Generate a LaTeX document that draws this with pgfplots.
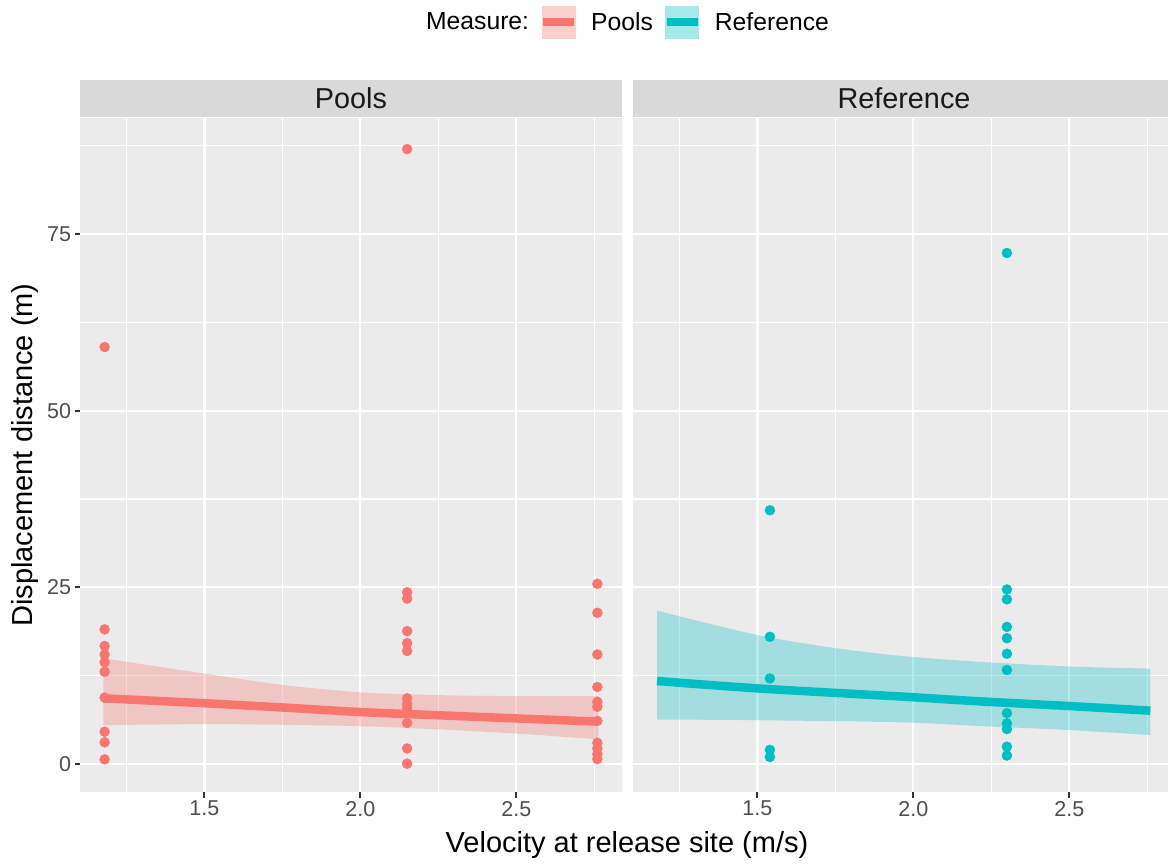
\documentclass[border=0pt]{standalone}
\usepackage{pgfplots}
\pgfplotsset{compat=1.18}
\usepgfplotslibrary{fillbetween}
\usepackage{fontspec}
\setmainfont{Liberation Sans}
\definecolor{pools}{HTML}{F8766D}
\definecolor{refc}{HTML}{00BFC4}
\definecolor{panelbg}{HTML}{EBEBEB}
\definecolor{stripbg}{HTML}{D9D9D9}
\definecolor{tickc}{HTML}{333333}
\definecolor{ticklab}{HTML}{4D4D4D}
\pgfplotsset{
 facet/.style={
  width=542pt, height=674pt, scale only axis,
  xmin=1.101, xmax=2.839, ymin=-3.96, ymax=91.4,
  axis background/.style={fill=panelbg},
  axis line style={draw=none},
  xtick={1.5,2,2.5}, xticklabels={1.5,2.0,2.5},
  ytick={0,25,50,75}, yticklabels={0,25,50,75},
  minor xtick={1.25,1.75,2.25,2.75}, minor ytick={12.5,37.5,62.5,87.5},
  grid=both,
  major grid style={white, line width=2.2pt},
  minor grid style={white, line width=1.1pt},
  tick align=outside, tick pos=left,
  major tick length=5.5pt, minor tick length=0pt,
  tick style={tickc, line width=2pt},
  ticklabel style={font=\fontsize{21.5}{24}\selectfont, text=ticklab},
  /pgf/number format/assume math mode=true,
  clip=true,
 }
}
\begin{document}
\begin{tikzpicture}
\begin{axis}[facet, at={(80pt,-792pt)}, anchor=south west,
  legend style={at={(1.0,1.1424)}, anchor=center, draw=none, fill=none,
    legend columns=-1, font=\fontsize{24.7}{28}\selectfont,
    /tikz/every even column/.append style={column sep=8pt},
    /tikz/every odd column/.append style={column sep=11pt}},
  legend cell align=left]
\addlegendimage{empty legend}
\addlegendentry{Measure:}
\addlegendimage{legend image code/.code={
  \path[fill=pools, fill opacity=0.35, draw=none] (0pt,-16.5pt) rectangle (34pt,16.5pt);
  \draw[pools, line width=8pt] (1.5pt,0pt) -- (32.5pt,0pt);}}
\addlegendentry{Pools}
\addlegendimage{legend image code/.code={
  \path[fill=refc, fill opacity=0.35, draw=none] (0pt,-16.5pt) rectangle (34pt,16.5pt);
  \draw[refc, line width=8pt] (1.5pt,0pt) -- (32.5pt,0pt);}}
\addlegendentry{Reference}
% band
\addplot[name path=pu, draw=none, smooth, forget plot] coordinates {
 (1.176,14.95) (1.5,12.8) (1.75,11.2) (2.0,10.15) (2.25,9.75) (2.5,9.6) (2.763,9.6)};
\addplot[name path=pl, draw=none, smooth, forget plot] coordinates {
 (1.176,5.5) (1.5,5.65) (1.75,5.55) (2.0,5.35) (2.25,4.9) (2.5,4.3) (2.763,3.5)};
\addplot[fill=pools, fill opacity=0.3, draw=none, forget plot] fill between[of=pu and pl];
\addplot[pools, line width=8.5pt, smooth, forget plot] coordinates {
 (1.176,9.3) (1.5,8.6) (1.75,8.0) (2.0,7.35) (2.25,6.9) (2.5,6.45) (2.763,6.0)};
\addplot[only marks, mark=*, mark size=5pt, draw=pools, fill=pools, forget plot] coordinates {
 (1.18,59.0) (1.18,19.05) (1.18,16.7) (1.18,15.5) (1.18,14.4) (1.18,13.05) (1.18,9.4) (1.18,4.57) (1.18,3.07) (1.18,0.66)
 (2.15,87.0) (2.15,24.3) (2.15,23.4) (2.15,18.8) (2.15,17.1) (2.15,16.0) (2.15,9.3) (2.15,8.5) (2.15,7.9) (2.15,5.8) (2.15,2.2) (2.15,0.05)
 (2.76,25.5) (2.76,21.4) (2.76,15.5) (2.76,10.9) (2.76,8.8) (2.76,8.1) (2.76,6.1) (2.76,3.0) (2.76,2.2) (2.76,1.4) (2.76,0.7)};
\end{axis}
\begin{axis}[facet, at={(633pt,-792pt)}, anchor=south west, ytick pos=right, yticklabels={}]
\addplot[name path=ru, draw=none, smooth] coordinates {
 (1.178,21.7) (1.5,18.25) (1.75,16.4) (1.96,15.3) (2.2,14.5) (2.5,13.8) (2.76,13.5)};
\addplot[name path=rl, draw=none, smooth] coordinates {
 (1.178,6.3) (1.5,6.2) (1.96,5.9) (2.2,5.4) (2.5,4.8) (2.76,4.1)};
\addplot[fill=refc, fill opacity=0.3, draw=none] fill between[of=ru and rl];
\addplot[refc, line width=8.5pt, smooth] coordinates {
 (1.178,11.75) (1.5,10.7) (1.96,9.55) (2.2,8.9) (2.5,8.2) (2.76,7.55)};
\addplot[only marks, mark=*, mark size=5pt, draw=refc, fill=refc] coordinates {
 (1.54,35.9) (1.54,18.0) (1.54,12.1) (1.54,2.0) (1.54,1.0)
 (2.30,72.3) (2.30,24.7) (2.30,23.3) (2.30,19.4) (2.30,17.8) (2.30,15.6) (2.30,13.3) (2.30,7.2) (2.30,5.75) (2.30,4.95) (2.30,2.45) (2.30,1.2)};
\end{axis}
% facet strips
\fill[stripbg] (80pt,-117pt) rectangle (622pt,-80pt);
\fill[stripbg] (633pt,-117pt) rectangle (1175pt,-80pt);
\node[font=\fontsize{28.8}{32}\selectfont, text=black!90] at (351pt,-98.5pt) {Pools};
\node[font=\fontsize{28.8}{32}\selectfont, text=black!90] at (904pt,-98.5pt) {Reference};
% axis titles
\node[font=\fontsize{29}{32}\selectfont, rotate=90] at (25pt,-455pt) {Displacement distance (m)};
\node[font=\fontsize{29}{32}\selectfont] at (627pt,-845pt) {Velocity at release site (m/s)};
\pgfresetboundingbox
\path (0pt,0pt) rectangle (1168pt,-863pt);
\end{tikzpicture}
\end{document}
